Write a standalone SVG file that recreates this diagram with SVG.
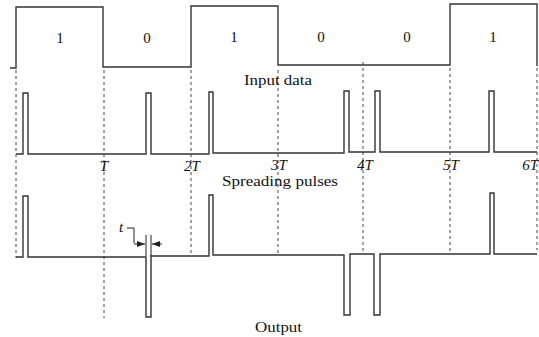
<svg xmlns="http://www.w3.org/2000/svg" width="539" height="337" viewBox="0 0 539 337">
<defs>
<style>
.w{fill:none;stroke:#333;stroke-width:1.4;stroke-linejoin:miter}
.d{fill:none;stroke:#444;stroke-width:1;stroke-dasharray:3,3}
.t{font-family:"Liberation Serif",serif;font-size:15px;fill:#111}
.i{font-family:"Liberation Serif",serif;font-size:15px;font-style:italic;fill:#111;text-anchor:middle}
.n{font-family:"Liberation Serif",serif;font-size:15px;fill:#111;text-anchor:middle}
</style>
<marker id="ah" viewBox="0 0 8 6" refX="8" refY="3" markerWidth="8" markerHeight="6" orient="auto" markerUnits="userSpaceOnUse">
<path d="M0,0 L8,3 L0,6 Z" fill="#222"/>
</marker>
</defs>
<rect width="539" height="337" fill="#fff"/>
<g id="gridlines">
<line class="d" x1="16" y1="70" x2="16" y2="258"/>
<line class="d" x1="104" y1="70" x2="104" y2="318"/>
<line class="d" x1="191" y1="70" x2="191" y2="254"/>
<line class="d" x1="278" y1="70" x2="278" y2="254"/>
<line class="d" x1="363" y1="62" x2="363" y2="254"/>
<line class="d" x1="450" y1="68" x2="450" y2="252"/>
<line class="d" x1="537" y1="68" x2="537" y2="250"/>
</g>
<g id="input-data">
<path class="w" d="M10,68 H16 V7 H103 V67 H191 V6 H278 V65 H450 V4 H537 V66"/>
<text class="n" x="60" y="43">1</text>
<text class="n" x="147" y="43">0</text>
<text class="n" x="234" y="42">1</text>
<text class="n" x="321" y="42">0</text>
<text class="n" x="407" y="42">0</text>
<text class="n" x="493" y="42">1</text>
<text class="t" x="244" y="85" textLength="68" lengthAdjust="spacingAndGlyphs">Input data</text>
</g>
<g id="spreading-pulses">
<path class="w" d="M16,154 H23 V93 H28 V154 H146 V93 H151 V154 H209 V92 H213 V153 H344 V91 H349 V152 H375 V91 H380 V152 H489 V91 H494 V152 H537"/>
<text class="i" x="104" y="171">T</text>
<text class="i" x="192" y="171">2T</text>
<text class="i" x="279" y="170">3T</text>
<text class="i" x="365" y="170">4T</text>
<text class="i" x="451" y="170">5T</text>
<text class="i" x="538" y="170" text-anchor="end" style="text-anchor:end">6T</text>
<text class="t" x="222" y="186" textLength="116" lengthAdjust="spacingAndGlyphs">Spreading pulses</text>
</g>
<g id="output">
<path class="w" d="M16,257 H23 V196 H28 V257 H146 V317 H151 V256 H209 V195 H213 V255 H344 V315 H350 V254 H374 V315 H380 V254 H490 V193 H494 V254 H537"/>
<text class="t" x="255" y="332" textLength="47" lengthAdjust="spacingAndGlyphs">Output</text>
</g>
<g id="connectors">
<text class="i" x="121" y="232">t</text>
<path fill="none" stroke="#222" stroke-width="1" d="M127,228 H134 V243"/>
<line stroke="#222" stroke-width="1" x1="134" y1="244" x2="145" y2="244" marker-end="url(#ah)"/>
<line stroke="#222" stroke-width="1" x1="162" y1="244" x2="152" y2="244" marker-end="url(#ah)"/>
<line stroke="#222" stroke-width="1" x1="146" y1="235" x2="146" y2="256"/>
<line stroke="#222" stroke-width="1" x1="151" y1="235" x2="151" y2="256"/>
</g>
</svg>
